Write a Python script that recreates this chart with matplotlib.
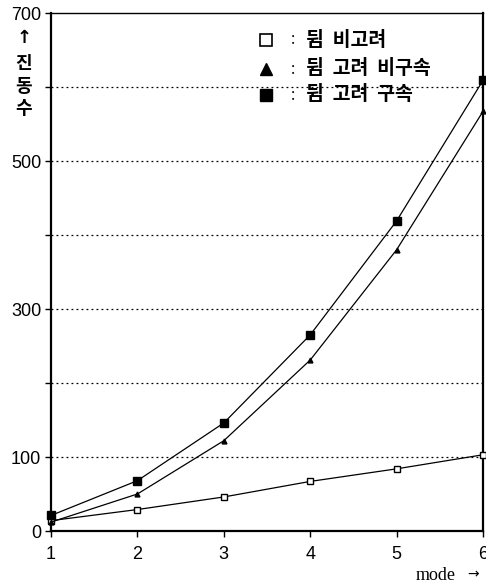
import matplotlib
matplotlib.use("Agg")
import matplotlib.pyplot as plt
from matplotlib.lines import Line2D

# ---- data ----
modes = [1, 2, 3, 4, 5, 6]
no_warping = [14, 29, 46, 67, 84, 103]          # 뒴 비고려
warping_free = [12, 50, 122, 231, 380, 567]     # 뒴 고려 비구속
warping_fixed = [21, 68, 146, 265, 419, 609]    # 뒴 고려 구속
legend_labels = ["뒴  비고려", "뒴  고려  비구속", "뒴  고려  구속"]
ytick_vals = [0, 100, 200, 300, 400, 500, 600, 700]
ytick_labels = ["0", "100", "", "300", "", "500", "", "700"]
xtick_labels = ["1", "2", "3", "4", "5", "6"]

W, H = 486, 586
fig = plt.figure(figsize=(W / 100, H / 100), dpi=100)
fig.patch.set_facecolor("white")

def fx(px):
    return px / W

def fy(py):
    return 1 - py / H

ax = fig.add_axes([fx(51), fy(531), fx(483) - fx(51), fy(13) - fy(531)])
ax.set_xlim(1, 6)
ax.set_ylim(0, 700)

lw = 0.9
ax.plot(modes, no_warping, color="black", lw=lw, marker="s", ms=4.5,
        mfc="white", mec="black", mew=1.0, clip_on=False, zorder=3)
ax.plot(modes, warping_free, color="black", lw=lw, marker="^", ms=3.5,
        mfc="black", mec="black", clip_on=False, zorder=3)
ax.plot(modes, warping_fixed, color="black", lw=lw, marker="s", ms=5.5,
        mfc="black", mec="black", clip_on=False, zorder=3)

ax.set_yticks(ytick_vals)
ax.set_yticklabels(ytick_labels, fontsize=13, family="Liberation Sans")
ax.set_xticks(modes)
ax.set_xticklabels(xtick_labels, fontsize=13, family="Liberation Sans")
ax.tick_params(axis="both", direction="out", length=4, width=1.0, color="black")
ax.tick_params(axis="y", pad=3)
ax.tick_params(axis="x", pad=7)

for v in ytick_vals[1:-1]:
    ax.axhline(v, color="black", lw=0.9, ls=(0, (1.5, 2.5)), zorder=1)

for s in ax.spines.values():
    s.set_color("black")
ax.spines["left"].set_linewidth(1.6)
ax.spines["bottom"].set_linewidth(1.6)
ax.spines["top"].set_linewidth(1.0)
ax.spines["right"].set_linewidth(1.6)

# legend (manual)
kfont = ["Noto Sans CJK KR", "DejaVu Sans"]
rows_y = [40, 69, 95]
markers = [dict(marker="s", ms=9, mfc="white", mec="black", mew=1.2),
           dict(marker="^", ms=8, mfc="black", mec="black"),
           dict(marker="s", ms=9, mfc="black", mec="black")]
for yy, mk, lab in zip(rows_y, markers, legend_labels):
    fig.add_artist(Line2D([fx(266)], [fy(yy)], transform=fig.transFigure,
                          color="black", ls="none", **mk))
    fig.text(fx(293), fy(yy), ":", fontsize=11, family=kfont,
             ha="center", va="center")
    fig.text(fx(306), fy(yy), lab, fontsize=14, family=kfont,
             ha="left", va="center", fontweight="bold")

# y-axis label stacked vertically
fig.text(fx(24), fy(38), "↑", fontsize=13, family=["DejaVu Sans"],
         ha="center", va="center", fontweight="bold")
for ch, yy in zip("진동수", [63, 86, 108]):
    fig.text(fx(24), fy(yy), ch, fontsize=13, family=kfont,
             ha="center", va="center", fontweight="bold")

# x-axis label
fig.text(fx(436), fy(575), "mode", fontsize=13, family="Liberation Serif",
         ha="center", va="center")
fig.text(fx(473), fy(574), "→", fontsize=10, family="DejaVu Sans",
         ha="center", va="center")

fig.savefig("out.png", dpi=100, facecolor="white")
